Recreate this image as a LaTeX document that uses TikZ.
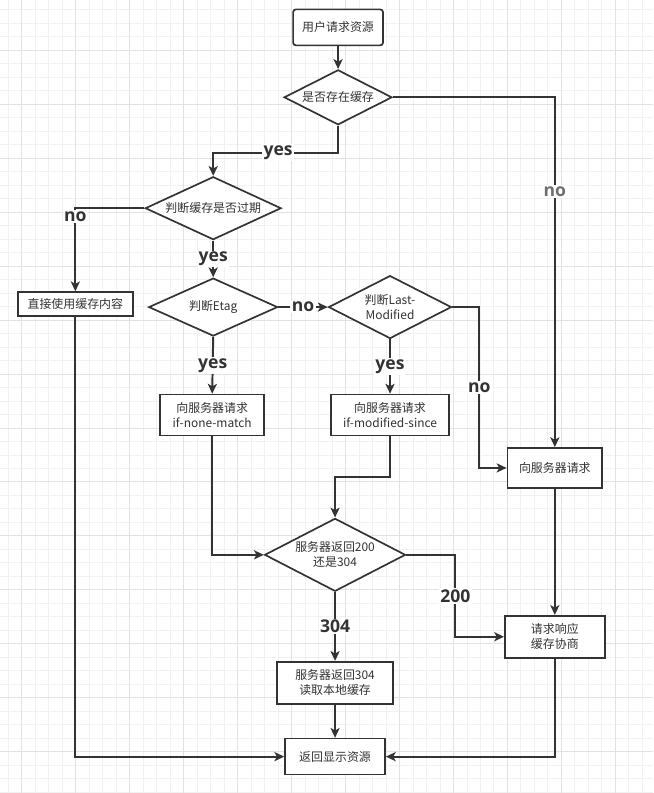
\documentclass[tikz,border=0pt]{standalone}
\usepackage{fontspec}
\newfontfamily\cjk{Noto Sans CJK SC}
\newfontfamily\labfont{Open Sans}
\usepackage{tikz}
\usetikzlibrary{arrows.meta,shapes.geometric}
\definecolor{ink}{HTML}{333333}
\definecolor{nogray}{HTML}{6E6E6E}
\definecolor{gridminor}{HTML}{F1F1F1}
\definecolor{gridmajor}{HTML}{E2E2E2}

\begin{document}
\begin{tikzpicture}[
  x=0.025cm, y=-0.025cm, >={Stealth[length=7pt, width=6.5pt, inset=1.8pt]},
  box/.style={draw=ink, line width=1.2pt, fill=white, text=ink, align=center,
              inner sep=1pt, font=\cjk\fontsize{8.5}{10.5}\selectfont},
  decision/.style={box, diamond, aspect=2, inner sep=0pt},
  lab/.style={fill=white, text=ink, inner sep=1pt,
              font=\labfont\bfseries\fontsize{12.5}{14}\selectfont},
  flow/.style={draw=ink, line width=1.4pt, ->}
]
\fill[white] (0,0) rectangle (653,793);
\foreach \i in {0,...,47} \draw[gridminor, line width=0.6pt] ({8+13.5*\i},0) -- ({8+13.5*\i},793);
\foreach \j in {0,...,58} \draw[gridminor, line width=0.6pt] (0,{9.5+13.5*\j}) -- (653,{9.5+13.5*\j});
\foreach \i in {0,...,11} \draw[gridmajor, line width=0.6pt] ({21.5+54*\i},0) -- ({21.5+54*\i},793);
\foreach \j in {0,...,13} \draw[gridmajor, line width=0.6pt] (0,{50+54*\j}) -- (653,{50+54*\j});
\useasboundingbox (0,0) rectangle (653,793);

\node[box, rounded corners=2pt, minimum width=2.25cm, minimum height=0.9cm] (req) at (338,27) {用户请求资源};
\node[decision, minimum width=2.7cm, minimum height=1.375cm] (has) at (338,97) {是否存在缓存};
\node[decision, minimum width=3.4cm, minimum height=1.575cm] (expired) at (213,208) {判断缓存是否过期};
\node[box, minimum width=2.875cm, minimum height=0.6cm] (usecache) at (75,304) {直接使用缓存内容};
\node[decision, minimum width=3.225cm, minimum height=1.45cm] (etag) at (213,307) {判断Etag};
\node[decision, minimum width=3.075cm, minimum height=1.575cm] (lastmod) at (390,307) {判断Last-\\Modified};
\node[box, minimum width=2.6cm, minimum height=1.025cm] (nonematch) at (212,415) {向服务器请求\\if-none-match};
\node[box, minimum width=2.95cm, minimum height=1.025cm] (modsince) at (390,415) {向服务器请求\\if-modified-since};
\node[box, minimum width=2.375cm, minimum height=1cm] (askserver) at (555,468) {向服务器请求};
\node[decision, minimum width=3.525cm, minimum height=1.825cm] (status) at (335,555) {服务器返回200\\还是304};
\node[box, minimum width=2.5cm, minimum height=1.05cm] (negotiate) at (555,637) {请求响应\\缓存协商};
\node[box, minimum width=2.9cm, minimum height=1.05cm] (local) at (335,683) {服务器返回304\\读取本地缓存};
\node[box, minimum width=2.5cm, minimum height=0.9cm] (show) at (335,757) {返回显示资源};

\draw[flow] (req) -- (has);
\draw[flow] (has.east) -| node[lab, pos=0.635, text=nogray] {no} (askserver.north);
\draw[flow] (has.south) -- ++(0,27) -| node[lab, pos=0.24] {yes} (expired.north);
\draw[flow] (expired.west) -| node[lab, pos=0.55] {no} (usecache.north);
\draw[flow] (expired.south) -- node[lab] {yes} (etag.north);
\draw[flow] (etag.east) -- node[lab] {no} (lastmod.west);
\draw[flow] (etag.south) -- node[lab] {yes} (nonematch.north);
\draw[flow] (lastmod.south) -- node[lab] {yes} (modsince.north);
\draw[flow] (lastmod.east) -- ++(27,0) |- node[lab, pos=0.25] {no} (askserver.west);
\draw[flow] (modsince.south) -- ++(0,41) -| (status.north);
\draw[flow] (nonematch.south) |- (status.west);
\draw[flow] (status.east) -- ++(49,0) |- node[lab, pos=0.25] {200} (negotiate.west);
\draw[flow] (askserver) -- (negotiate);
\draw[flow] (status.south) -- node[lab] {304} (local.north);
\draw[flow] (local) -- (show);
\draw[flow] (usecache.south) |- (show.west);
\draw[flow] (negotiate.south) |- (show.east);
\end{tikzpicture}
\end{document}
